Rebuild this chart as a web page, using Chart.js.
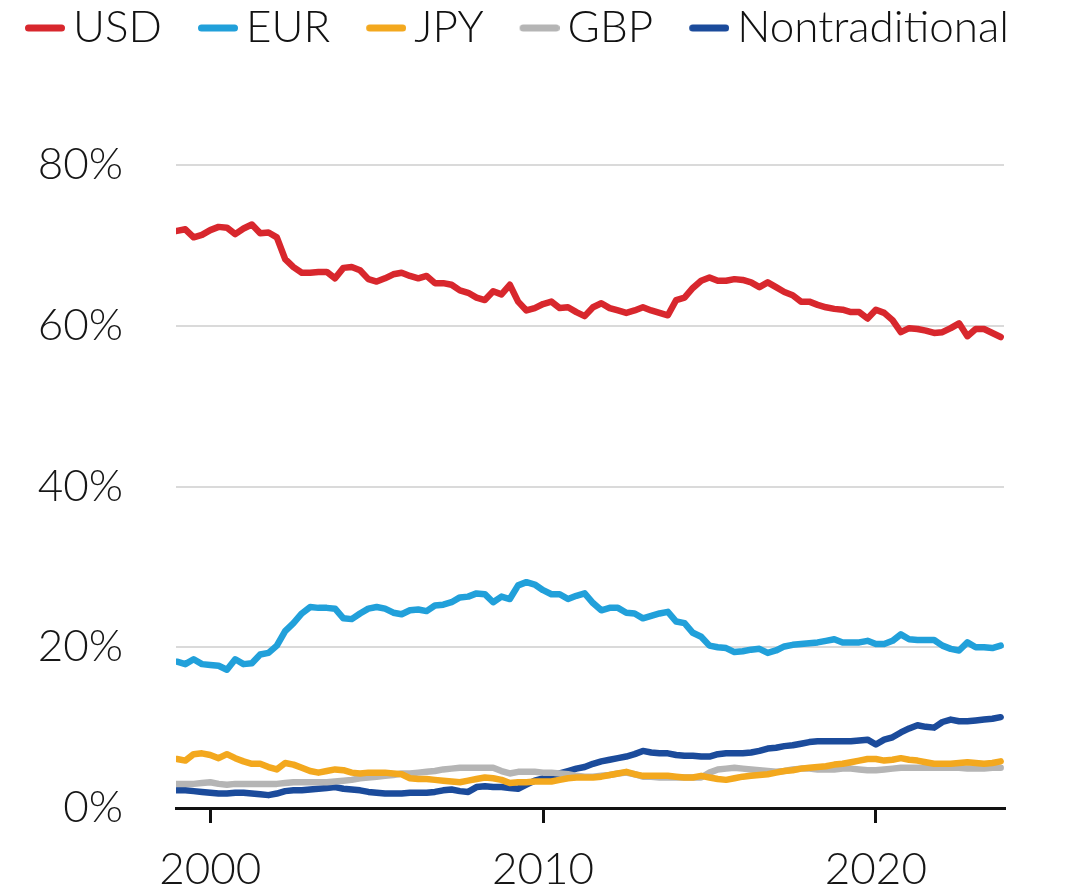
<!DOCTYPE html>
<html>
<head>
<meta charset="utf-8">
<script src="https://cdn.jsdelivr.net/npm/chart.js@4.4.1/dist/chart.umd.min.js"></script>
<style>
  html, body { margin: 0; padding: 0; background: #fff; }
  #wrap { width: 1069px; height: 891px; position: relative; }
</style>
</head>
<body>
<div id="wrap"><canvas id="reservesChart"></canvas></div>
<script>
// Share of global FX reserves by currency, quarterly 1999Q1 - 2023Q4 (%)
const seriesNames = ['USD', 'EUR', 'JPY', 'GBP', 'Nontraditional'];
const seriesColors = ['#d8272d', '#21a0da', '#f3a81e', '#b5b5b5', '#1b4b9b'];

const usd = [
  71.8, 72.0, 71.0, 71.3, 71.9, 72.3, 72.2, 71.4, 72.1, 72.6,
  71.5, 71.6, 71.0, 68.3, 67.3, 66.6, 66.6, 66.7, 66.7, 65.9,
  67.2, 67.3, 66.9, 65.8, 65.5, 65.9, 66.4, 66.6, 66.2, 65.9,
  66.2, 65.3, 65.3, 65.1, 64.4, 64.1, 63.5, 63.2, 64.3, 63.9,
  65.1, 63.0, 61.9, 62.2, 62.7, 63.0, 62.2, 62.3, 61.7, 61.2,
  62.3, 62.8, 62.2, 61.9, 61.6, 61.9, 62.3, 61.9, 61.6, 61.3,
  63.2, 63.5, 64.7, 65.6, 66.0, 65.6, 65.6, 65.8, 65.7, 65.4,
  64.8, 65.4, 64.8, 64.2, 63.8, 63.0, 63.0, 62.6, 62.3, 62.1,
  62.0, 61.7, 61.7, 60.9, 62.0, 61.6, 60.7, 59.2, 59.7, 59.6,
  59.4, 59.1, 59.2, 59.7, 60.3, 58.7, 59.6, 59.6, 59.1, 58.6
];
const eur = [
  18.2, 17.9, 18.5, 17.9, 17.8, 17.7, 17.2, 18.5, 17.9, 18.0,
  19.1, 19.3, 20.2, 22.0, 23.0, 24.2, 25.0, 24.9, 24.9, 24.8,
  23.6, 23.5, 24.2, 24.8, 25.0, 24.8, 24.3, 24.1, 24.6, 24.7,
  24.5, 25.2, 25.3, 25.6, 26.2, 26.3, 26.7, 26.6, 25.6, 26.3,
  26.0, 27.7, 28.1, 27.8, 27.1, 26.6, 26.6, 26.0, 26.4, 26.7,
  25.5, 24.6, 24.9, 24.9, 24.3, 24.2, 23.6, 23.9, 24.2, 24.4,
  23.2, 23.0, 21.8, 21.3, 20.2, 20.0, 19.9, 19.4, 19.5, 19.7,
  19.8, 19.3, 19.6, 20.1, 20.3, 20.4, 20.5, 20.6, 20.8, 21.0,
  20.6, 20.6, 20.6, 20.8, 20.4, 20.4, 20.8, 21.6, 21.0, 20.9,
  20.9, 20.9, 20.2, 19.8, 19.6, 20.6, 20.0, 20.0, 19.9, 20.2
];
const jpy = [
  6.1, 5.9, 6.7, 6.8, 6.6, 6.2, 6.7, 6.2, 5.8, 5.5,
  5.5, 5.1, 4.8, 5.6, 5.4, 5.0, 4.6, 4.4, 4.6, 4.8,
  4.7, 4.4, 4.3, 4.4, 4.4, 4.4, 4.3, 4.2, 3.7, 3.6,
  3.6, 3.5, 3.4, 3.3, 3.2, 3.4, 3.6, 3.8, 3.7, 3.5,
  3.1, 3.2, 3.2, 3.3, 3.3, 3.3, 3.5, 3.7, 3.8, 3.8,
  3.8, 3.9, 4.1, 4.3, 4.5, 4.2, 4.0, 4.0, 4.0, 4.0,
  3.9, 3.8, 3.8, 4.0, 3.8, 3.6, 3.5, 3.7, 3.9, 4.0,
  4.1, 4.2, 4.4, 4.6, 4.7, 4.9, 5.0, 5.1, 5.2, 5.4,
  5.5, 5.7, 5.9, 6.1, 6.1, 5.9, 6.0, 6.2, 6.0, 5.9,
  5.7, 5.5, 5.5, 5.5, 5.6, 5.7, 5.6, 5.5, 5.6, 5.8
];
const gbp = [
  3.0, 3.0, 3.0, 3.1, 3.2, 3.0, 2.9, 3.0, 3.0, 3.0,
  3.0, 3.0, 3.0, 3.1, 3.2, 3.2, 3.2, 3.2, 3.2, 3.3,
  3.4, 3.5, 3.7, 3.8, 3.9, 4.0, 4.1, 4.3, 4.3, 4.4,
  4.5, 4.6, 4.8, 4.9, 5.0, 5.0, 5.0, 5.0, 5.0, 4.6,
  4.3, 4.5, 4.5, 4.5, 4.4, 4.4, 4.3, 4.2, 4.0, 3.9,
  3.9, 4.0, 4.1, 4.3, 4.4, 4.2, 3.9, 3.9, 3.8, 3.8,
  3.8, 3.8, 3.8, 3.8, 4.4, 4.8, 4.9, 5.0, 4.9, 4.8,
  4.7, 4.6, 4.5, 4.6, 4.8, 4.9, 4.9, 4.8, 4.8, 4.8,
  4.9, 4.9, 4.8, 4.7, 4.7, 4.8, 4.9, 5.0, 5.0, 5.0,
  5.0, 5.0, 5.0, 5.0, 5.0, 4.9, 4.9, 4.9, 5.0, 5.0
];
const nontraditional = [
  2.2, 2.2, 2.1, 2.0, 1.9, 1.8, 1.8, 1.9, 1.9, 1.8,
  1.7, 1.6, 1.8, 2.1, 2.2, 2.2, 2.3, 2.4, 2.5, 2.6,
  2.4, 2.3, 2.2, 2.0, 1.9, 1.8, 1.8, 1.8, 1.9, 1.9,
  1.9, 2.0, 2.2, 2.3, 2.1, 2.0, 2.6, 2.7, 2.6, 2.6,
  2.5, 2.4, 2.9, 3.4, 3.7, 4.0, 4.3, 4.6, 4.9, 5.1,
  5.5, 5.8, 6.0, 6.2, 6.4, 6.7, 7.1, 6.9, 6.8, 6.8,
  6.6, 6.5, 6.5, 6.4, 6.4, 6.7, 6.8, 6.8, 6.8, 6.9,
  7.1, 7.4, 7.5, 7.7, 7.8, 8.0, 8.2, 8.3, 8.3, 8.3,
  8.3, 8.3, 8.4, 8.5, 7.9, 8.5, 8.8, 9.4, 9.9, 10.3,
  10.1, 10.0, 10.7, 11.0, 10.8, 10.8, 10.9, 11.0, 11.1, 11.3
];

const xTicks = [2000, 2010, 2020];
const yTicks = [0, 20, 40, 60, 80];

// quarter labels 1999Q1 .. 2023Q4, placed at the start of each quarter
const quarters = [];
for (let y = 1999; y <= 2023; y++) {
  for (let q = 1; q <= 4; q++) quarters.push({ label: y + 'Q' + q, x: y + (q - 1) / 4 });
}

// legend box width; the swatch image puts a 40px bar just before the text
const boxW = 56;
function swatch(color) {
  const c = document.createElement('canvas');
  c.width = boxW + 28;
  c.height = 8;
  const g = c.getContext('2d');
  g.strokeStyle = color;
  g.lineWidth = 7;
  g.lineCap = 'round';
  g.beginPath();
  g.moveTo(boxW - 12 + 3.5, 4);
  g.lineTo(boxW + 28 - 3.5, 4);
  g.stroke();
  return c;
}

const allSeries = [usd, eur, jpy, gbp, nontraditional];

// legend: one row across the full width, and a fixed height above the plot
const legendHeight = {
  id: 'legendHeight',
  beforeInit(chart) {
    const legend = chart.legend;
    const fit = legend.fit;
    legend.fit = function () {
      this.maxWidth = 1400;
      fit.call(this);
      this.height = 165;
    };
  },
  afterLayout(chart) {
    chart.legend.left -= 11;
    chart.legend.right = 1400;
  }
};

Chart.defaults.font.family = 'Lato';
Chart.defaults.font.weight = 300;
Chart.defaults.color = '#161616';

new Chart(document.getElementById('reservesChart'), {
  type: 'line',
  data: {
    datasets: allSeries.map((vals, i) => ({
      label: seriesNames[i],
      data: vals.map((v, k) => ({ x: quarters[k].x, y: v })),
      borderColor: seriesColors[i],
      backgroundColor: seriesColors[i],
      borderWidth: 6.5,
      borderJoinStyle: 'round',
      borderCapStyle: 'round',
      pointRadius: 0,
      pointStyle: swatch(seriesColors[i]),
      tension: 0,
      fill: false
    }))
  },
  options: {
    responsive: true,
    maintainAspectRatio: false,
    animation: false,
    events: [],
    layout: { padding: { left: 0, right: 65, top: 0, bottom: 0 } },
    plugins: {
      tooltip: { enabled: false },
      legend: {
        position: 'top',
        align: 'start',
        labels: {
          usePointStyle: true,
          pointStyleWidth: boxW,
          padding: 6,
          color: '#111',
          font: { size: 44, weight: 300 }
        }
      }
    },
    scales: {
      x: {
        type: 'linear',
        min: 1998.97,
        max: 2023.85,
        afterBuildTicks: scale => { scale.ticks = xTicks.map(v => ({ value: v })); },
        afterFit: scale => { scale.height = 83; },
        ticks: {
          padding: 20,
          maxRotation: 0,
          font: { size: 44, weight: 300 },
          callback: v => String(v)
        },
        grid: {
          drawOnChartArea: false,
          drawTicks: true,
          tickLength: 15,
          color: '#111',
          lineWidth: 3
        },
        border: { display: true, color: '#111', width: 3 }
      },
      y: {
        min: 0,
        max: 80,
        afterBuildTicks: scale => { scale.ticks = yTicks.map(v => ({ value: v })); },
        afterFit: scale => { scale.width = 176; },
        ticks: {
          padding: 53,
          font: { size: 44, weight: 300 },
          callback: v => v + '%'
        },
        grid: {
          drawTicks: false,
          color: ctx => ctx.tick && ctx.tick.value === 0 ? 'rgba(0,0,0,0)' : '#dadada',
          lineWidth: 2
        },
        border: { display: false }
      }
    }
  },
  plugins: [legendHeight]
});
</script>
</body>
</html>
